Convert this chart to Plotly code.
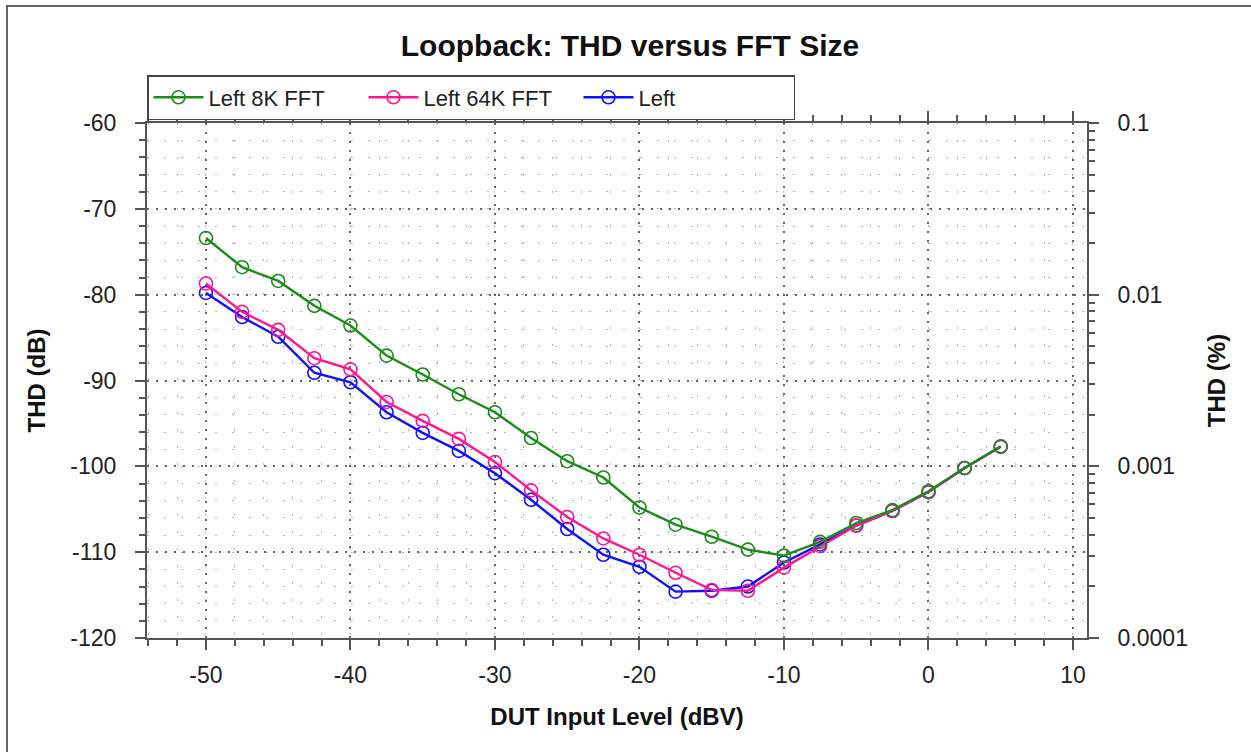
import plotly.graph_objects as go

# ---- data ----
levels = [-50, -47.5, -45, -42.5, -40, -37.5, -35, -32.5, -30, -27.5, -25, -22.5,
          -20, -17.5, -15, -12.5, -10, -7.5, -5, -2.5, 0, 2.5, 5]
left_8k = [-73.4, -76.8, -78.4, -81.3, -83.6, -87.1, -89.3, -91.6, -93.7, -96.7, -99.4, -101.3,
           -104.8, -106.8, -108.2, -109.7, -110.4, -108.8, -106.6, -105.1, -102.9, -100.2, -97.7]
left_64k = [-78.7, -82.0, -84.1, -87.4, -88.7, -92.5, -94.7, -96.8, -99.5, -102.8, -105.9, -108.4,
            -110.3, -112.4, -114.4, -114.5, -111.8, -109.3, -106.9, -105.2, -103.0, -100.2, -97.7]
left = [-79.8, -82.6, -84.9, -89.1, -90.2, -93.7, -96.1, -98.2, -100.8, -103.9, -107.3, -110.3,
        -111.7, -114.6, -114.5, -114.0, -111.2, -109.1, -106.9, -105.2, -103.0, -100.2, -97.7]
series_names = ["Left 8K FFT", "Left 64K FFT", "Left"]
colors = ["#1a8c1a", "#ff1493", "#1010ff"]
x_ticks = [-50, -40, -30, -20, -10, 0, 10]
db_ticks = [-120, -110, -100, -90, -80, -70, -60]
pct_ticks = [0.1, 0.01, 0.001, 0.0001]

FONT = "Liberation Sans, Arial, sans-serif"

fig = go.Figure()

# draw order: blue bottom, pink, green on top; legend order via legendrank
for name, ys, col, rank in [(series_names[2], left, colors[2], 3),
                            (series_names[1], left_64k, colors[1], 2),
                            (series_names[0], left_8k, colors[0], 1)]:
    fig.add_trace(go.Scatter(
        x=levels, y=ys, name=name, mode="lines+markers",
        line=dict(color=col, width=2.4),
        marker=dict(symbol="circle-open", size=13, color=col, line=dict(width=1.6, color=col)),
        legendrank=rank,
    ))

# invisible trace to carry the right (percent) axis
fig.add_trace(go.Scatter(
    x=levels, y=[100 * 10 ** (v / 20) for v in left_8k], yaxis="y2",
    mode="lines", line=dict(width=0, color="rgba(0,0,0,0)"),
    showlegend=False, hoverinfo="skip",
))

axis_line = "#555555"
tick_font = dict(family=FONT, size=23, color="#222222")
title_font = dict(family=FONT, size=24, color="#111111")

fig.update_layout(
    width=1251, height=752,
    margin=dict(l=147, r=164, t=123, b=114),
    paper_bgcolor="white", plot_bgcolor="white",
    title=dict(text="<b>Loopback: THD versus FFT Size</b>", x=(630 - 147) / 940, xref="paper",
               xanchor="center", y=1 - 45 / 752, yanchor="middle",
               font=dict(family=FONT, size=30, color="#111111")),
    font=dict(family=FONT),
    showlegend=True,
    legend=dict(orientation="h", x=0.0, y=(638 - 75) / 515, xanchor="left", yanchor="top",
                bordercolor="#444444", borderwidth=1.5, bgcolor="white",
                font=dict(family=FONT, size=22, color="#222222"),
                entrywidth=150, entrywidthmode="pixels", itemwidth=50),
    xaxis=dict(
        range=[-54.08, 10.97], tickmode="array", tickvals=x_ticks,
        ticktext=[str(v) for v in x_ticks],
        showline=True, linecolor=axis_line, linewidth=2,
        mirror="ticks", ticks="outside", ticklen=10, tickwidth=2, tickcolor=axis_line,
        tickfont=tick_font, ticklabelstandoff=5,
        showgrid=True, gridcolor="#666666", griddash="2px,7px", gridwidth=1.5,
        zeroline=False,
        minor=dict(dtick=2, tick0=0, ticks="outside", ticklen=6, tickwidth=1.5, tickcolor=axis_line,
                   showgrid=True, gridcolor="#b4b4b4", griddash="2px,15px", gridwidth=1.3),
        title=dict(text="<b>DUT Input Level (dBV)</b>", font=title_font, standoff=22),
    ),
    yaxis=dict(
        range=[-120, -60], tickmode="array", tickvals=db_ticks,
        ticktext=[str(v) for v in db_ticks],
        showline=True, linecolor=axis_line, linewidth=2,
        ticks="outside", ticklen=10, tickwidth=2, tickcolor=axis_line,
        tickfont=tick_font, ticklabelstandoff=14,
        showgrid=True, gridcolor="#666666", griddash="2px,7px", gridwidth=1.5,
        zeroline=False,
        minor=dict(dtick=2, tick0=-120, ticks="outside", ticklen=6, tickwidth=1.5, tickcolor=axis_line,
                   showgrid=True, gridcolor="#b4b4b4", griddash="2px,15px", gridwidth=1.3),
        title=dict(text="<b>THD (dB)</b>", font=title_font, standoff=18),
    ),
    yaxis2=dict(
        type="log", range=[-4, -1], overlaying="y", side="right", anchor="x",
        showline=True, linecolor=axis_line, linewidth=2,
        tickmode="array", tickvals=pct_ticks, ticktext=[str(v) for v in pct_ticks],
        ticks="outside", ticklen=10, tickwidth=2, tickcolor=axis_line,
        tickfont=tick_font, ticklabelstandoff=14,
        showgrid=False, zeroline=False,
        minor=dict(dtick="D1", ticks="outside", ticklen=6, tickwidth=1.5, tickcolor=axis_line,
                   showgrid=False),
        title=dict(text="<b>THD (%)</b>", font=title_font, standoff=21),
    ),
    shapes=[dict(type="rect", xref="paper", yref="paper",
                 x0=(7 - 147) / 940, x1=(1260 - 147) / 940,
                 y0=(638 - 765) / 515, y1=(638 - 6) / 515,
                 line=dict(color="#333333", width=1.5), fillcolor="rgba(0,0,0,0)", layer="below")],
)

fig.write_html("out.html", config={"displayModeBar": False},
               post_script="document.body.style.margin='0';")
